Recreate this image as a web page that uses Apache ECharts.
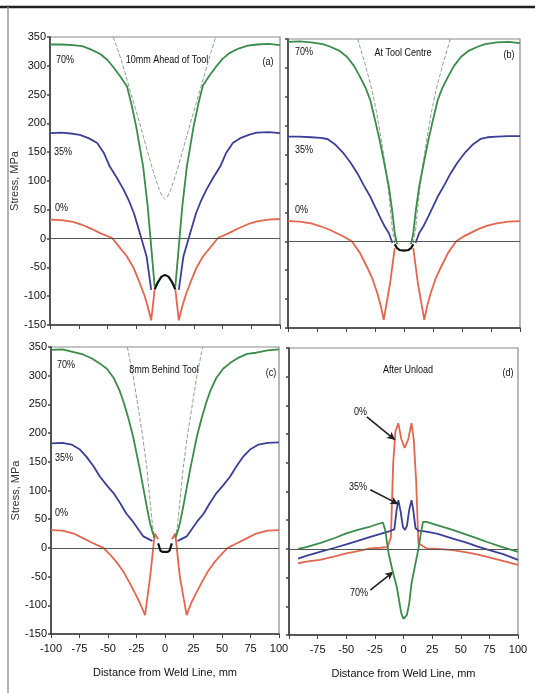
<!DOCTYPE html>
<html><head><meta charset="utf-8">
<script src="https://cdn.jsdelivr.net/npm/echarts@6/dist/echarts.min.js"></script>
<style>html,body{margin:0;padding:0;background:#fff}#c{width:535px;height:693px}</style>
</head><body><div id="c"></div>
<script>
// ---- Data (x = distance from weld line, mm ; y = stress, MPa) ----
const xTicks = [-100,-75,-50,-25,0,25,50,75,100];
const yTicks = [-150,-100,-50,0,50,100,150,200,250,300,350];
const panelTitles = ['10mm Ahead of Tool','At Tool Centre','8mm Behind Tool','After Unload'];
const panelTags = ['(a)','(b)','(c)','(d)'];
const levelNames = ['70%','35%','0%'];

// (a) 10mm ahead of tool
const aGreen = [[-100,337],[-90,337],[-80,336],[-72,334],[-64,328],[-56,320],[-50,310],[-45,298],[-39,282],[-33,264],[-29,232],[-25,194],[-19,125],[-15,55],[-12,-14],[-9,-83],
  [9,-83],[12,-14],[15,55],[19,125],[25,196],[29,234],[33,266],[39,284],[45,300],[50,312],[56,322],[64,330],[72,335],[80,337],[90,338],[100,336]];
const aDash = [[-45,350],[-38,310],[-30,255],[-22,200],[-15,150],[-10,115],[-5,85],[-2,72],[0,68],[2,72],[5,85],[10,115],[15,150],[22,200],[30,255],[38,310],[44,350]];
const aBlue = [[-100,183],[-90,184],[-80,182],[-74,180],[-66,174],[-59,166],[-53,148],[-48,125],[-42,106],[-36,85],[-31,64],[-27,44],[-22,10],[-16,-31],[-12,-89],
  [12,-89],[16,-31],[22,10],[27,44],[31,64],[36,85],[42,106],[48,125],[53,148],[59,166],[66,175],[74,181],[80,184],[90,185],[100,183]];
const aRed = [[-100,33],[-90,32],[-80,29],[-72,24],[-64,17],[-56,9],[-46,1],[-40,-14],[-33,-31],[-27,-52],[-22,-77],[-18,-98],[-15,-118],[-12,-142],[-9,-88],
  [9,-88],[12,-142],[15,-118],[18,-98],[22,-77],[27,-52],[33,-31],[40,-14],[46,1],[56,10],[64,18],[72,25],[80,30],[90,33],[100,34]];
const aCenter = [[-9,-88],[-6,-75],[-3,-66],[0,-63],[3,-66],[6,-75],[9,-88]];

// (b) at tool centre
const bGreen = [[-100,345],[-90,346],[-80,344],[-70,341],[-64,337],[-56,330],[-49,319],[-43,303],[-38,285],[-33,265],[-29,244],[-25,210],[-21,175],[-17,135],[-13,94],[-10,50],[-8,14],[-6,-5],
  [6,-5],[8,14],[10,50],[13,94],[17,135],[21,175],[25,210],[29,244],[33,265],[38,285],[43,303],[49,319],[56,330],[64,337],[70,341],[80,344],[90,345],[100,343]];
const bDash = [[-40,350],[-34,310],[-28,265],[-24,227],[-20,180],[-16,129],[-13,80],[-10,20],[-8,-3],[8,-3],[10,20],[13,80],[16,129],[20,180],[24,227],[28,265],[34,310],[40,350]];
const bBlue = [[-100,181],[-90,181],[-80,180],[-72,179],[-66,177],[-59,167],[-52,152],[-46,136],[-40,117],[-35,98],[-29,77],[-25,60],[-21,43],[-17,27],[-13,14],[-10,-3],
  [10,-3],[13,14],[17,27],[21,43],[25,60],[29,77],[35,98],[40,117],[46,136],[52,152],[59,167],[66,177],[72,180],[80,181],[90,182],[100,182]];
const bRed = [[-100,35],[-90,34],[-80,31],[-72,26],[-64,20],[-58,14],[-51,7],[-45,0],[-38,-20],[-32,-44],[-27,-66],[-23,-90],[-20,-112],[-17.5,-136],[-12,-73],[-8,-12],
  [8,-12],[12,-73],[17.5,-136],[20,-112],[23,-90],[27,-66],[32,-44],[38,-20],[45,0],[51,8],[58,15],[64,21],[72,27],[80,31],[90,34],[100,35]];
const bCenter = [[-8,-5],[-6,-12],[-4,-15],[0,-16],[4,-15],[6,-12],[8,-5]];

// (c) 8mm behind tool
const cGreen = [[-100,345],[-90,346],[-80,341],[-72,337],[-64,330],[-57,321],[-51,312],[-45,296],[-40,275],[-36,252],[-32,225],[-28,194],[-25,165],[-22,136],[-19,104],[-16,72],[-13,42],[-11,28],[-9,17],
  [9,17],[11,28],[13,42],[16,72],[19,104],[22,136],[25,165],[28,194],[32,225],[36,252],[40,275],[45,296],[51,312],[57,322],[64,331],[72,338],[80,340],[90,344],[100,346]];
const cDash = [[-33,350],[-28,300],[-24,250],[-20,200],[-16,140],[-13,80],[-11,40],[-9,15],[9,15],[11,40],[13,80],[16,140],[20,200],[24,250],[28,300],[33,350]];
const cBlue = [[-100,182],[-90,183],[-82,180],[-75,172],[-69,159],[-63,143],[-57,124],[-51,109],[-45,95],[-39,77],[-34,60],[-29,48],[-25,37],[-19,20],[-13,14],[-11,12],
  [11,12],[13,14],[19,20],[25,37],[29,48],[34,60],[39,77],[45,95],[51,109],[57,124],[63,143],[69,160],[75,172],[82,180],[90,183],[100,184]];
const cRed = [[-100,31],[-90,30],[-80,25],[-72,17],[-64,9],[-54,0],[-48,-12],[-42,-26],[-36,-43],[-31,-61],[-26,-80],[-22,-96],[-17.5,-117],[-13,-50],[-9,25],[-6,15],
  [6,15],[9,25],[13,-50],[19,-117],[23,-96],[27,-80],[32,-61],[37,-43],[43,-26],[49,-12],[55,0],[64,9],[72,17],[80,25],[90,30],[100,31]];
const cCenter = [[-6,8],[-4,-5],[-2,-7],[0,-7],[2,-7],[4,-5],[6,8]];

// (d) after unload
const dRed = [[-92,-25],[-85,-22],[-73,-19],[-60,-13],[-50,-8],[-40,-4],[-29,1],[-20,2],[-14,3],[-11,20],[-9,150],[-7,205],[-4.5,219],[-2,192],[1,176],[4,190],[7,219],[9,190],[11,120],[13,10],[20,1],[30,0],[43,-2],[55,-6],[65,-10],[73,-14],[85,-20],[100,-28]];
const dBlue = [[-92,-17],[-85,-12],[-73,-5],[-60,2],[-50,8],[-40,14],[-29,21],[-20,26],[-12,31],[-8,34],[-6,68],[-4.5,85],[-2.5,65],[-0.5,38],[1.3,33],[3,40],[5,68],[7,85],[8.5,68],[10.5,36],[13,32],[20,30],[30,26],[43,18],[55,11],[65,4],[75,-2],[87,-9],[100,-19]];
const dGreen = [[-92,0],[-85,3],[-73,10],[-60,19],[-50,27],[-40,33],[-29,39],[-18,46],[-16,33],[-13,-8],[-9,-43],[-6,-65],[-4,-88],[-2,-112],[0,-122],[1.5,-124],[3,-115],[5,-95],[7,-60],[9,-40],[11,-20],[13,0],[15,25],[17,47],[20,47],[30,41],[43,33],[55,25],[65,18],[73,12],[85,4],[100,-5]];
// arrows in (d): [label anchor, curve point]
const dArrows = [[[-32,230],[-7.4,190]],[[-29,103],[-4.5,78]],[[-29,-72],[-9,-40]]];

// ---- Styling / layout ----
const FONT = "'Liberation Sans Narrow','Liberation Sans',sans-serif";
const GREEN = '#3a8c4a', BLUE = '#3b3f96', RED = '#e4664f', DASH = '#8fa08f';
const grids = [
  {left:50, top:37, width:230, height:288},
  {left:288, top:39, width:232, height:289},
  {left:51, top:347, width:228, height:287},
  {left:289, top:348, width:229, height:287}
].map(g => Object.assign(g, {show:true, borderColor:'#8a8a8a', borderWidth:1.2, backgroundColor:'transparent'}));

function xAxis(i, showLabel, hideFirst) {
  return {type:'value', gridIndex:i, min:xTicks[0], max:xTicks[xTicks.length-1], interval:25,
    axisLine:{onZero:false, lineStyle:{color:'#333', width:1.5}},
    axisTick:{show:true, length:4, lineStyle:{color:'#444'}},
    splitLine:{show:false},
    axisLabel:{show:showLabel, fontFamily:FONT, fontSize:11, color:'#111', margin:9,
      formatter: v => (hideFirst && v === -100) ? '' : String(v)},
    name: showLabel ? 'Distance from Weld Line, mm' : '', nameLocation:'middle', nameGap:33,
    nameTextStyle:{fontFamily:FONT, fontSize:11, color:'#111'}};
}
function yAxis(i, showLabel) {
  return {type:'value', gridIndex:i, min:yTicks[0], max:yTicks[yTicks.length-1], interval:50,
    axisLine:{onZero:false, lineStyle:{color:'#333', width:1.5}},
    axisTick:{show:true, length:3, lineStyle:{color:'#444', width:1.5}},
    splitLine:{show:false},
    axisLabel:{show:showLabel, fontFamily:FONT, fontSize:11, color:'#111', margin:4},
    name: showLabel ? 'Stress, MPa' : '', nameLocation:'middle', nameGap:27, nameRotate:90,
    nameTextStyle:{fontFamily:FONT, fontSize:11, color:'#333'}};
}
function line(i, data, color, width, type, z) {
  return {type:'line', xAxisIndex:i, yAxisIndex:i, data:data, showSymbol:false, symbol:'none',
    smooth:false, silent:true, z:z||2, lineStyle:{color:color, width:width, type:type||'solid'}};
}
function zeroLine(i) {
  return {type:'line', xAxisIndex:i, yAxisIndex:i, data:[], silent:true,
    markLine:{silent:true, symbol:['none','none'], label:{show:false},
      lineStyle:{color:'#555', width:1.2, type:'solid'}, data:[{yAxis:0}]}};
}
// split a curve into its left and right branches (the centre is drawn separately)
function branches(arr) {
  const k = arr.findIndex(p => p[0] > 0);
  return [arr.slice(0, k), arr.slice(k)];
}

const series = [];
const P = [
  {g:0, green:aGreen, blue:aBlue, red:aRed, center:aCenter, dash:aDash},
  {g:1, green:bGreen, blue:bBlue, red:bRed, center:bCenter, dash:bDash},
  {g:2, green:cGreen, blue:cBlue, red:cRed, center:cCenter, dash:cDash},
  {g:3, green:dGreen, blue:dBlue, red:dRed}
];
P.forEach(p => {
  series.push(zeroLine(p.g));
  const split = !!p.center;
  const add = (arr, color, w, type, z) => {
    (split ? branches(arr) : [arr]).forEach(part => series.push(line(p.g, part, color, w, type, z)));
  };
  if (p.dash) add(p.dash, DASH, 1, 'dashed', 2);
  add(p.red, RED, 1.8, 'solid', 3);
  add(p.blue, BLUE, 1.8, 'solid', 4);
  add(p.green, GREEN, 1.8, 'solid', 5);
  if (p.center) series.push(line(p.g, p.center, '#111', 2.2, 'solid', 6));
});
series.push({type:'line', xAxisIndex:3, yAxisIndex:3, data:[], silent:true,
  markLine:{silent:true, symbol:['none','arrow'], symbolSize:[6,8], label:{show:false},
    lineStyle:{color:'#222', width:1.6, type:'solid'},
    data: dArrows.map(a => [{coord:a[0]},{coord:a[1]}])}});

function txt(x, y, s, align) {
  return {type:'text', x:x, y:y, scaleX:0.82, z:100, style:{text:s, font:'11px '+FONT, fill:'#111',
    textAlign:align||'left', textVerticalAlign:'middle'}};
}
const graphic = [
  {type:'line', shape:{x1:0, y1:7, x2:535, y2:7}, style:{stroke:'#222', lineWidth:2.5}},
  {type:'line', shape:{x1:8, y1:7, x2:8, y2:693}, style:{stroke:'#9a9a9a', lineWidth:1.5}},
  txt(167,60,panelTitles[0],'center'), txt(268,62,panelTags[0],'center'),
  txt(56,60,levelNames[0]), txt(54,152,levelNames[1]), txt(55,208,levelNames[2]),
  txt(403,53,panelTitles[1],'center'), txt(509,55,panelTags[1],'center'),
  txt(295,52,levelNames[0]), txt(295,150,levelNames[1]), txt(295,210,levelNames[2]),
  txt(164,370,panelTitles[2],'center'), txt(271,373,panelTags[2],'center'),
  txt(57,365,levelNames[0]), txt(55,458,levelNames[1]), txt(55,513,levelNames[2]),
  txt(408,370,panelTitles[3],'center'), txt(508,373,panelTags[3],'center'),
  txt(367,412,levelNames[2],'right'), txt(367,487,levelNames[1],'right'), txt(368,593,levelNames[0],'right')
];

const chart = echarts.init(document.getElementById('c'), null, {renderer:'canvas'});
chart.setOption({
  animation:false, backgroundColor:'#fff',
  grid: grids,
  xAxis: [xAxis(0,false,false), xAxis(1,false,false), xAxis(2,true,false), xAxis(3,true,true)],
  yAxis: [yAxis(0,true), yAxis(1,false), yAxis(2,true), yAxis(3,false)],
  series: series,
  graphic: graphic
});
</script></body></html>
